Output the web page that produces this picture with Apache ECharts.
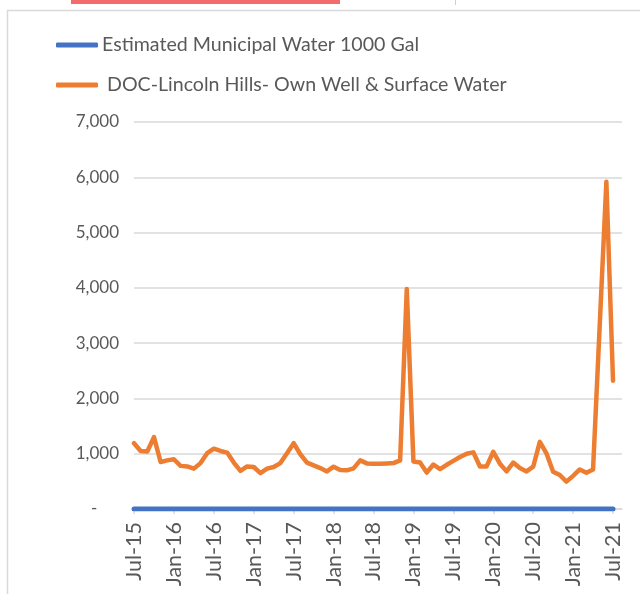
<!DOCTYPE html>
<html>
<head>
<meta charset="utf-8">
<script src="https://cdn.jsdelivr.net/npm/echarts@6/dist/echarts.min.js"></script>
<style>
html,body{margin:0;padding:0;background:#fff;}
#chart{width:640px;height:594px;}
</style>
</head>
<body>
<div id="chart"></div>
<script>
// Tick labels on the date axis (every 6 months, Jul-15 .. Jul-21)
var tickLabels = ['Jul-15','Jan-16','Jul-16','Jan-17','Jul-17','Jan-18','Jul-18','Jan-19','Jul-19','Jan-20','Jul-20','Jan-21','Jul-21'];
var tickStepMonths = 6;

// Series names
var seriesNames = ['Estimated Municipal Water 1000 Gal', ' DOC-Lincoln Hills- Own Well & Surface Water'];

// Monthly values Jul-15 .. Jul-21 (73 months)
var municipal = [
  0,0,0,0,0,0, 0,0,0,0,0,0,
  0,0,0,0,0,0, 0,0,0,0,0,0,
  0,0,0,0,0,0, 0,0,0,0,0,0,
  0,0,0,0,0,0, 0,0,0,0,0,0,
  0,0,0,0,0,0, 0,0,0,0,0,0,
  0,0,0,0,0,0, 0,0,0,0,0,0,
  0
];
var lincolnHills = [
  1190,1050,1040,1300,850,880,      // Jul-15 .. Dec-15
  900,780,770,730,830,1010,         // Jan-16 .. Jun-16
  1090,1050,1020,840,690,770,       // Jul-16 .. Dec-16
  760,650,730,760,830,1010,         // Jan-17 .. Jun-17
  1190,990,840,790,740,680,         // Jul-17 .. Dec-17
  765,705,700,735,880,825,          // Jan-18 .. Jun-18
  820,820,825,830,880,3980,         // Jul-18 .. Dec-18
  860,840,660,805,720,800,          // Jan-19 .. Jun-19
  870,940,1000,1025,770,770,        // Jul-19 .. Dec-19
  1035,820,680,840,740,680,         // Jan-20 .. Jun-20
  765,1215,1005,675,615,495,        // Jul-20 .. Dec-20
  600,715,655,715,null,5920,        // Jan-21 .. Jun-21
  2320                              // Jul-21
];

// y-axis
var yMin = 0, yMax = 7000, yStep = 1000;

function toPairs(arr){
  var out = [];
  for (var i = 0; i < arr.length; i++) out.push([i, arr[i]]);
  return out;
}

var chart = echarts.init(document.getElementById('chart'), null, {renderer:'canvas'});
var FONT = 'Lato, "Open Sans", "Liberation Sans", sans-serif';
var option = {
  animation: false,
  backgroundColor: '#ffffff',
  textStyle: {fontFamily: FONT},
  graphic: [
    {type:'rect', shape:{x:71, y:0, width:269, height:4}, style:{fill:'#f46b6b'}, silent:true},
    {type:'line', shape:{x1:455.5, y1:0, x2:455.5, y2:5}, style:{stroke:'#d0d0d0', lineWidth:1}, silent:true},
    {type:'line', shape:{x1:7, y1:10.5, x2:640, y2:10.5}, style:{stroke:'#d9d9d9', lineWidth:1.5}, silent:true},
    {type:'line', shape:{x1:7.5, y1:10, x2:7.5, y2:594}, style:{stroke:'#d9d9d9', lineWidth:1.5}, silent:true}
  ],
  legend: {
    orient: 'vertical',
    left: 56,
    top: 33,
    padding: 0,
    itemWidth: 42,
    itemHeight: 5,
    itemGap: 16,
    icon: 'roundRect',
    textStyle: {fontFamily: FONT, fontSize: 19.6, color:'#595959', lineHeight: 24, padding:[0,0,0,-1]},
    data: seriesNames
  },
  grid: {left: 134, right: 18, top: 122, bottom: 85, containLabel: false},
  xAxis: {
    type: 'value',
    min: 0,
    max: 73.35,
    interval: tickStepMonths,
    axisLine: {show:true, lineStyle:{color:'#d9d9d9', width:1.5}},
    axisTick: {show:true, length:5, lineStyle:{color:'#d9d9d9', width:1.5}},
    splitLine: {show:false},
    axisLabel: {
      rotate: 90,
      margin: 13,
      fontSize: 21.5,
      color: '#595959',
      fontFamily: FONT,
      showMaxLabel: false,
      formatter: function(v){
        var k = v / tickStepMonths;
        if (Math.abs(k - Math.round(k)) > 1e-6) return '';
        return tickLabels[Math.round(k)] || '';
      }
    }
  },
  yAxis: {
    type: 'value',
    min: yMin,
    max: yMax,
    interval: yStep,
    axisLine: {show:false},
    axisTick: {show:false},
    splitLine: {show:true, lineStyle:{color:'#d9d9d9', width:1.5}},
    axisLabel: {
      margin: 15,
      fontSize: 17,
      color: '#595959',
      fontFamily: FONT,
      formatter: function(v){
        if (v === 0) return '-     ';
        return v.toLocaleString('en-US');
      }
    }
  },
  series: [
    {
      name: seriesNames[0],
      type: 'line',
      data: toPairs(municipal),
      showSymbol: false,
      symbol: 'none',
      color: '#4472c4',
      lineStyle: {color:'#4472c4', width:5, cap:'round', join:'round'},
      z: 3
    },
    {
      name: seriesNames[1],
      type: 'line',
      data: toPairs(lincolnHills),
      connectNulls: true,
      showSymbol: false,
      symbol: 'none',
      color: '#ed7d31',
      lineStyle: {color:'#ed7d31', width:4.5, cap:'round', join:'round'},
      z: 2
    }
  ]
};
chart.setOption(option);
</script>
</body>
</html>
